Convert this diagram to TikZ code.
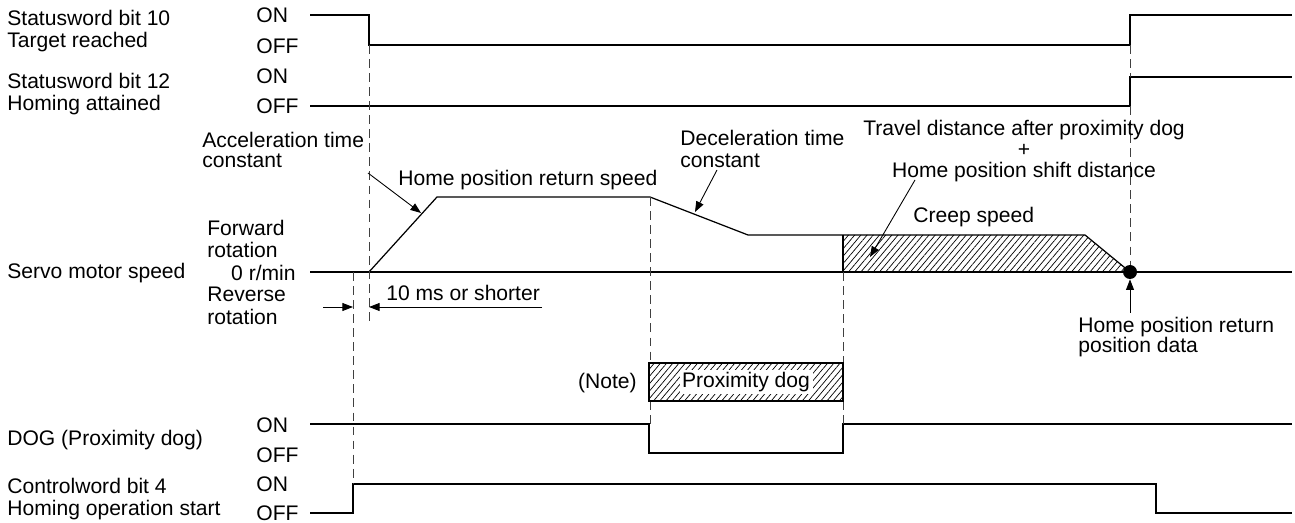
\documentclass[tikz,border=0pt]{standalone}
\usepackage{fontspec}
\setmainfont{Liberation Sans}
\usepackage{tikz}
\usetikzlibrary{arrows.meta,patterns.meta,positioning}
\tikzset{
  tclabel/.style={font=\fontsize{12}{13}\selectfont, align=left, inner sep=0pt},
  tclabelc/.style={tclabel, align=center},
  tcsig/.style={line width=0.7pt},
  tcguide/.style={dash pattern=on 5pt off 3pt, line width=0.5pt, black!75},
  tcarrow/.style={-{Triangle[length=6pt,width=4.5pt]}, line width=0.5pt},
  tchatch/.style={pattern={Lines[angle=50,distance=2.7pt,line width=0.4pt]}},
  tcdot/.style={circle, fill=black, minimum size=2.8mm, inner sep=0pt},
  tcbox/.style={draw, line width=0.7pt, tchatch, minimum width=3.88cm, minimum height=0.76cm, inner sep=0pt}
}

\begin{document}
\begin{tikzpicture}[x=0.02cm, y=-0.02cm]
  \useasboundingbox (0,0) rectangle (1295,523);
  % signal names
  \node[tclabel, anchor=west] (sw10) at (7,31) {Statusword bit 10\\Target reached};
  \node[tclabel, anchor=west] (sw12) at (7,94) {Statusword bit 12\\Homing attained};
  \node[tclabel, anchor=west] (spd) at (7,273) {Servo motor speed};
  \node[tclabel, anchor=west] (dog) at (7,440) {DOG (Proximity dog)};
  \node[tclabel, anchor=west] (cw4) at (7,499) {Controlword bit 4\\Homing operation start};
  % levels
  \node[tclabel, anchor=west] (on1) at (256,15) {ON};
  \node[tclabel, anchor=west] (off1) at (256,46) {OFF};
  \node[tclabel, anchor=west] (on2) at (256,76) {ON};
  \node[tclabel, anchor=west] (off2) at (256,106) {OFF};
  \node[tclabel, anchor=west] (on3) at (256,425) {ON};
  \node[tclabel, anchor=west] (off3) at (256,455) {OFF};
  \node[tclabel, anchor=west] (on4) at (256,484) {ON};
  \node[tclabel, anchor=west] (off4) at (256,513) {OFF};
  \node[tclabel, anchor=west] (fwd) at (207,239) {Forward\\rotation};
  \node[tclabel, anchor=east] (zero) at (296,273) {0 r/min};
  \node[tclabel, anchor=west] (rev) at (207,306) {Reverse\\rotation};
  % waveforms
  \draw[tcsig] (310,15) -- (369,15) -- (369,45) -- (1130,45) -- (1130,15) -- (1292,15);
  \draw[tcsig] (310,106) -- (1130,106) -- (1130,77) -- (1292,77);
  \fill[tchatch] (843,272) -- (843,235) -- (1085,235) -- (1130,272) -- cycle;
  \draw[tcsig] (310,272) -- (1292,272);
  \draw[tcsig] (369,272) -- (437,197) -- (650,197) -- (748,235) -- (1085,235) -- (1130,272);
  \draw[tcsig] (843,235) -- (843,272);
  \draw[tcsig] (310,424) -- (649,424) -- (649,453) -- (843,453) -- (843,424) -- (1292,424);
  \draw[tcsig] (310,513) -- (353,513) -- (353,484) -- (1156,484) -- (1156,513) -- (1292,513);
  % guides
  \draw[tcguide] (369,45) -- (369,325);
  \draw[tcguide] (353,272) -- (353,484);
  \draw[tcguide] (650,197) -- (650,363);
  \draw[tcguide] (650,401) -- (650,424);
  \draw[tcguide] (843,272) -- (843,363);
  \draw[tcguide] (843,401) -- (843,424);
  \draw[tcguide] (1130,45) -- (1130,77);
  \draw[tcguide] (1130,106) -- (1130,272);
  % proximity dog
  \node[tcbox] (pbox) at (746,382) {};
  \node[tclabel, fill=white, inner sep=1.5pt] (ptext) at (pbox.center) {Proximity dog};
  \node[tclabel, anchor=east] (note) at (637,383) {(Note)};
  % annotations
  \node[tclabel, anchor=west, font=\fontsize{12}{11}\selectfont] (acc) at (202,150) {Acceleration time\\constant};
  \node[tclabel, anchor=west] (hprs) at (398,180) {Home position return speed};
  \node[tclabel, anchor=west] (dec) at (680,149) {Deceleration time\\constant};
  \node[tclabelc, font=\fontsize{12}{12.2}\selectfont] (trav) at (1024,151) {Travel distance after proximity dog\\+\\Home position shift distance};
  \node[tclabel, anchor=west] (creep) at (913,217) {Creep speed};
  \node[tclabel, anchor=west, font=\fontsize{12}{11.5}\selectfont] (hprpd) at (1078,337) {Home position return\\position data};
  \node[tclabel, anchor=west] (tenms) at (386,293) {10 ms or shorter};
  \node[tcdot] (hpdot) at (1130,272) {};
  \coordinate (accfrom) at (368,173);
  \coordinate (accto) at (421,213);
  \coordinate (decfrom) at (717,170);
  \coordinate (decto) at (695,212);
  \coordinate (travfrom) at (915,180);
  \coordinate (travto) at (870,257);
  \coordinate (hpfoot) at (1130,313);
  \coordinate (dimleft) at (323,307);
  \coordinate (dimright) at (542,307);
  \draw[tcarrow] (accfrom) -- (accto);
  \draw[tcarrow] (decfrom) -- (decto);
  \draw[tcarrow] (travfrom) -- (travto);
  \draw[tcarrow] (hpfoot) -- (hpdot.south);
  \draw[tcarrow] (dimleft) -- (353,307);
  \draw[tcarrow] (dimright) -- (369,307);
\end{tikzpicture}
\end{document}
